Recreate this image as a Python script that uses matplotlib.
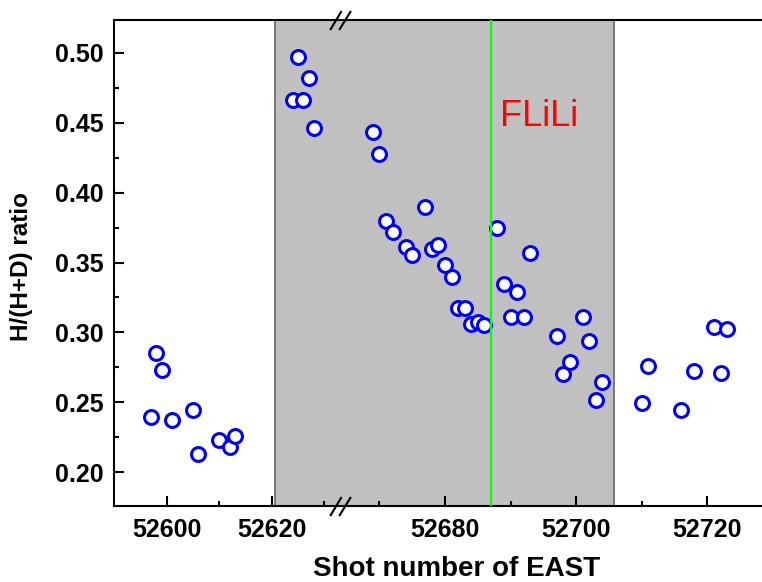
import numpy as np
import matplotlib
matplotlib.use('Agg')
import matplotlib.pyplot as plt
from matplotlib.path import Path
from matplotlib.ticker import FixedLocator, FormatStrFormatter, MultipleLocator
from matplotlib import transforms

# shot numbers and H/(H+D) ratio
shots = [52597, 52598, 52599, 52601, 52605, 52606, 52610, 52612, 52613,
         52624, 52625, 52626, 52627, 52628,
         52669, 52670, 52671, 52672, 52674, 52675, 52677, 52678, 52679, 52680,
         52681, 52682, 52683, 52684, 52685, 52686,
         52688, 52689, 52690, 52691, 52692, 52693, 52697, 52698, 52699, 52701,
         52702, 52703, 52704,
         52710, 52711, 52716, 52718, 52721, 52722, 52723]
ratio = [0.2394, 0.2853, 0.2734, 0.2376, 0.2442, 0.2127, 0.2227, 0.2179, 0.2256,
         0.4665, 0.4971, 0.4665, 0.4821, 0.4462,
         0.4434, 0.4274, 0.3798, 0.3717, 0.3613, 0.3554, 0.3896, 0.3597, 0.3626, 0.3482,
         0.3398, 0.3176, 0.3176, 0.3057, 0.3076, 0.3052,
         0.3747, 0.3346, 0.3107, 0.3286, 0.3111, 0.3570, 0.2973, 0.2701, 0.2789, 0.3111,
         0.2939, 0.2519, 0.2645,
         0.2495, 0.2763, 0.2447, 0.2722, 0.3035, 0.2706, 0.3025]

major_ticks = [52600, 52620, 52680, 52700, 52720]
minor_ticks = [52610, 52630, 52670, 52690, 52710]
shade = [52620.7, 52705.8]     # grey FLiLi period
flili_shot = 52687
break_lo, break_hi = 52633, 52664   # axis break

# piecewise scale for the broken x axis (left part is a bit tighter)
s_lo, s_hi, eps = 5.25, 6.56, 1e-4
gap = (break_hi - break_lo) * eps


def fwd(x):
    x = np.asarray(x, float)
    return np.where(x < break_lo, (x - break_lo) * s_lo,
                    np.where(x > break_hi, gap + (x - break_hi) * s_hi, (x - break_lo) * eps))


def inv(u):
    u = np.asarray(u, float)
    return np.where(u < 0, break_lo + u / s_lo,
                    np.where(u > gap, break_hi + (u - gap) / s_hi, break_lo + u / eps))


plt.rcParams['font.family'] = ['Liberation Sans', 'DejaVu Sans']
plt.rcParams['font.weight'] = 'bold'
plt.rcParams['axes.labelweight'] = 'bold'

fig = plt.figure(figsize=(7.62, 5.82), dpi=100)
ax = fig.add_axes([114.3/762, 76.3/582, 658.7/762, 485.7/582])
ax.set_xscale('function', functions=(fwd, inv))
ax.set_xlim(52590, 52730)
ax.set_ylim(0.176, 0.5235)

ax.axvspan(shade[0], shade[1], facecolor='#C0C0C0', edgecolor='#707070', lw=1.3, zorder=1)
ax.plot(shots, ratio, 'o', ls='none', ms=10, mfc='white', mec='blue', mew=2.2, zorder=3)
ax.axvline(flili_shot, color='#00FF00', lw=1.5, zorder=4)
ax.text(52688.4, 0.4477, 'FLiLi', color='red', fontsize=26, fontweight='normal', va='baseline')

ax.xaxis.set_major_locator(FixedLocator(major_ticks))
ax.xaxis.set_minor_locator(FixedLocator(minor_ticks))
ax.set_xticklabels([str(t) for t in major_ticks])
ax.yaxis.set_major_locator(MultipleLocator(0.05))
ax.yaxis.set_minor_locator(MultipleLocator(0.025))
ax.yaxis.set_major_formatter(FormatStrFormatter('%.2f'))
ax.tick_params(which='both', direction='in', top=False, right=False, width=1.5, labelsize=18)
ax.tick_params(which='major', length=7.5)
ax.tick_params(which='minor', length=3.5)
ax.tick_params(axis='x', pad=8.5)
ax.tick_params(axis='y', pad=8)
for sp in ax.spines.values():
    sp.set_linewidth(1.5)

ax.set_xlabel('Shot number of EAST', fontsize=20)
ax.xaxis.set_label_coords(0.52, -0.104)
ax.set_ylabel('H/(H+D) ratio', fontsize=17.5)
ax.yaxis.set_label_coords(-0.1227, 0.4935)

# "//" break marks on top and bottom axis
brk = Path([(-10.3, -9.5), (1.1, 9.5), (-1.3, -9.5), (10.4, 9.5)],
           [Path.MOVETO, Path.LINETO, Path.MOVETO, Path.LINETO])
trans = transforms.blended_transform_factory(ax.transData, ax.transAxes)
ax.plot([break_lo, break_lo], [0, 1], transform=trans, ls='none', marker=brk, ms=15,
        mfc='none', mec='black', mew=1.5, clip_on=False, zorder=5)

fig.savefig('out.png', dpi=100)
